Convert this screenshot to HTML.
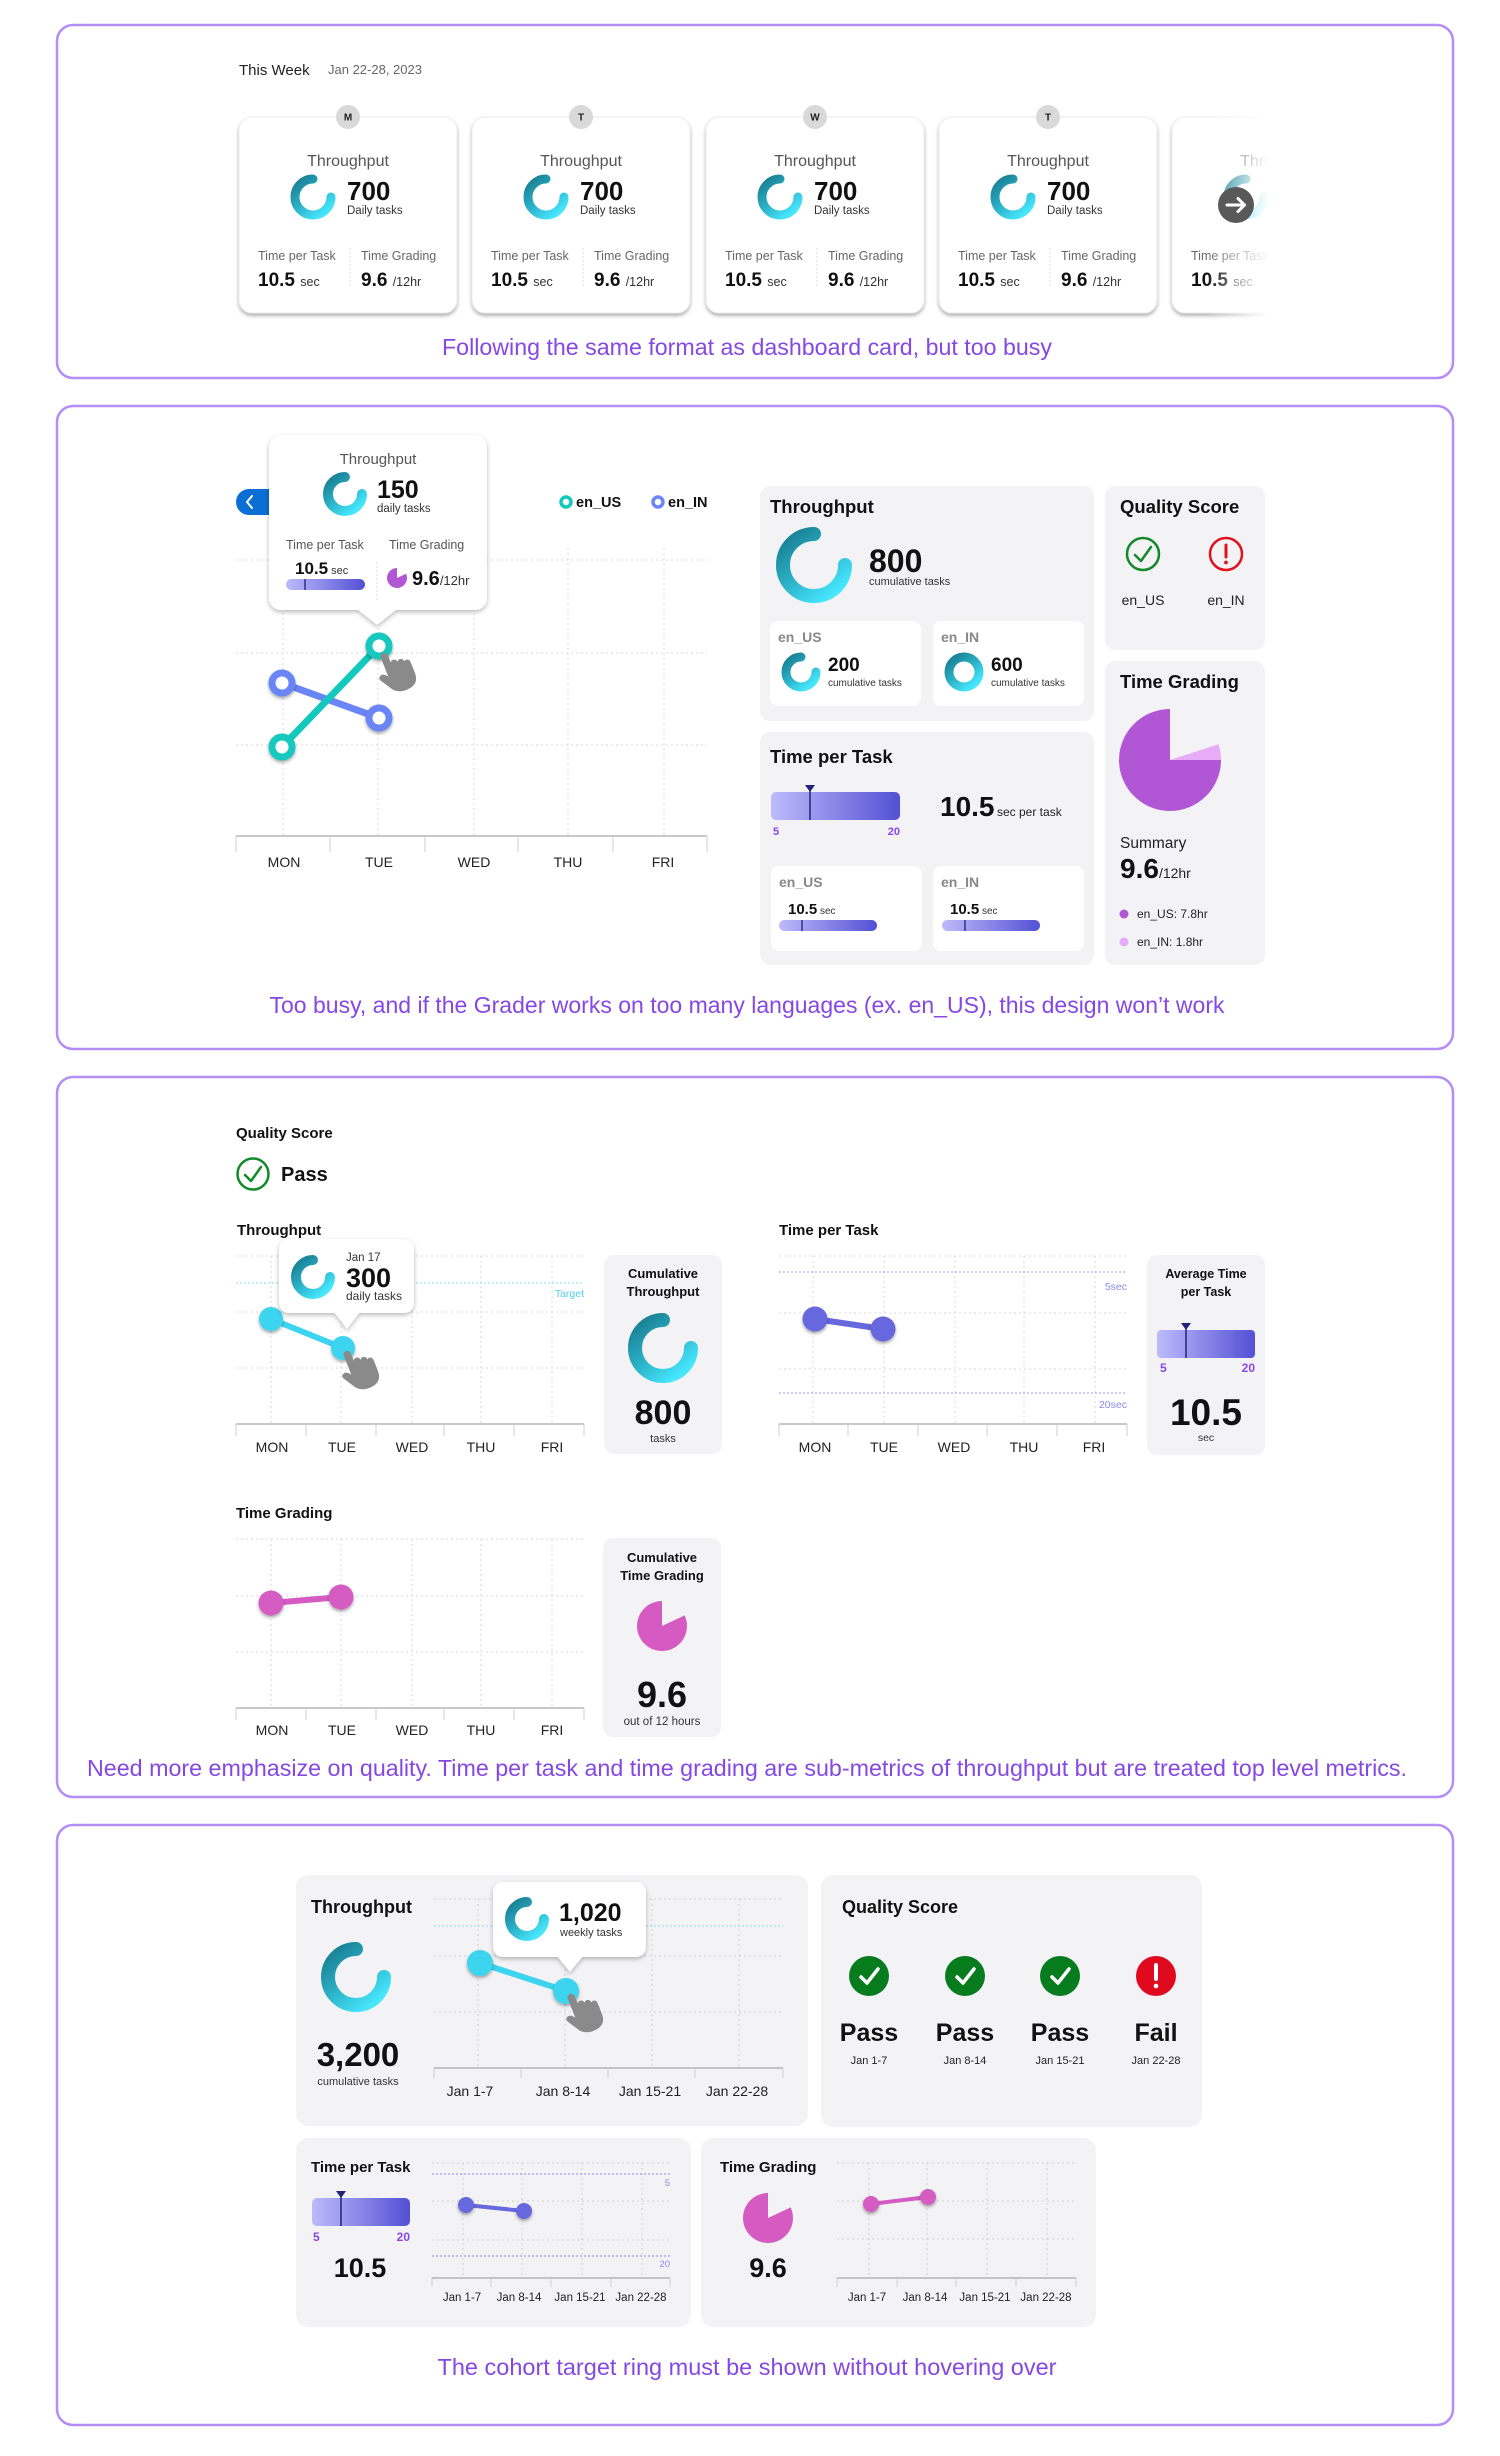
<!DOCTYPE html>
<html><head><meta charset="utf-8">
<style>
html,body{margin:0;padding:0;background:#fff;}
svg{display:block;font-family:"Liberation Sans",Arial,sans-serif;}
</style></head><body>
<svg width="1500" height="2456" viewBox="0 0 1500 2456" xmlns="http://www.w3.org/2000/svg">
<defs>
 <linearGradient id="rg" x1="0.2" y1="0" x2="0.9" y2="0.9"><stop offset="0" stop-color="#1b8599"/><stop offset="0.5" stop-color="#2cb3c9"/><stop offset="1" stop-color="#46e6fd"/></linearGradient>
 <linearGradient id="bar" x1="0" y1="0" x2="1" y2="0"><stop offset="0" stop-color="#bdbbfa"/><stop offset="1" stop-color="#5350d4"/></linearGradient>
 <linearGradient id="fade" x1="0" y1="0" x2="1" y2="0"><stop offset="0" stop-color="#fff" stop-opacity="0"/><stop offset="1" stop-color="#fff" stop-opacity="1"/></linearGradient>
 <filter id="sh" x="-10%" y="-10%" width="120%" height="125%"><feDropShadow dx="0" dy="2.5" stdDeviation="1.8" flood-color="#000" flood-opacity="0.3"/></filter>
 <filter id="sh2" x="-15%" y="-15%" width="130%" height="140%"><feDropShadow dx="0" dy="2" stdDeviation="2.5" flood-color="#000" flood-opacity="0.28"/></filter>
 <filter id="ps" x="-60%" y="-60%" width="220%" height="220%"><feDropShadow dx="0" dy="2" stdDeviation="1.5" flood-color="#000" flood-opacity="0.35"/></filter>
 <g id="hand" fill="#8a8a8a" transform="rotate(-22)">
  <rect x="-3.5" y="-1" width="7.5" height="26" rx="3.7"/>
  <rect x="3.5" y="9" width="7" height="16" rx="3.5"/>
  <rect x="10" y="11" width="7" height="15" rx="3.5"/>
  <rect x="16" y="14" width="6.5" height="13" rx="3.2"/>
  <path d="M-3.5,18 L22.5,20 L22.5,30 Q22,42 9,42 Q-2,42 -6,34 L-12,24 Q-14,20 -10,19 Q-7,18 -3.5,23 Z"/>
 </g>
</defs>

<!-- ================= PANEL 1 ================= -->
<rect x="57" y="25" width="1396" height="353" rx="16" fill="none" stroke="#b48ef6" stroke-width="2.5"/>
<text x="239" y="75" font-size="15" fill="#222">This Week</text>
<text x="328" y="74" font-size="13" fill="#666">Jan 22-28, 2023</text>

<g font-size="12.5">
 <rect x="239" y="117" width="218" height="196" rx="13" fill="#fff" stroke="#ececec" filter="url(#sh)"/>
 <circle cx="348" cy="117" r="12" fill="#d9d9d9"/>
 <text x="348" y="120.5" font-size="10" font-weight="bold" text-anchor="middle" fill="#222">M</text>
 <text x="348" y="166" font-size="16" text-anchor="middle" fill="#555">Throughput</text>
 <path d="M313,179 A18,18 0 1 0 331,197" fill="none" stroke="url(#rg)" stroke-width="9" stroke-linecap="round"/>
 <text x="347" y="200" font-size="26" font-weight="bold" fill="#111">700</text>
 <text x="347" y="214" font-size="11.5" fill="#333">Daily tasks</text>
 <text x="258" y="260" fill="#666">Time per Task</text>
 <text x="361" y="260" fill="#666">Time Grading</text>
 <line x1="350" y1="248" x2="350" y2="288" stroke="#ddd" stroke-dasharray="2,2"/>
 <text x="258" y="286" font-size="19" font-weight="bold" fill="#111">10.5 <tspan font-size="12.5" font-weight="normal" fill="#333">sec</tspan></text>
 <text x="361" y="286" font-size="19" font-weight="bold" fill="#111">9.6 <tspan font-size="12.5" font-weight="normal" fill="#333">/12hr</tspan></text>

 <rect x="472" y="117" width="218" height="196" rx="13" fill="#fff" stroke="#ececec" filter="url(#sh)"/>
 <circle cx="581" cy="117" r="12" fill="#d9d9d9"/>
 <text x="581" y="120.5" font-size="10" font-weight="bold" text-anchor="middle" fill="#222">T</text>
 <text x="581" y="166" font-size="16" text-anchor="middle" fill="#555">Throughput</text>
 <path d="M546,179 A18,18 0 1 0 564,197" fill="none" stroke="url(#rg)" stroke-width="9" stroke-linecap="round"/>
 <text x="580" y="200" font-size="26" font-weight="bold" fill="#111">700</text>
 <text x="580" y="214" font-size="11.5" fill="#333">Daily tasks</text>
 <text x="491" y="260" fill="#666">Time per Task</text>
 <text x="594" y="260" fill="#666">Time Grading</text>
 <line x1="583" y1="248" x2="583" y2="288" stroke="#ddd" stroke-dasharray="2,2"/>
 <text x="491" y="286" font-size="19" font-weight="bold" fill="#111">10.5 <tspan font-size="12.5" font-weight="normal" fill="#333">sec</tspan></text>
 <text x="594" y="286" font-size="19" font-weight="bold" fill="#111">9.6 <tspan font-size="12.5" font-weight="normal" fill="#333">/12hr</tspan></text>

 <rect x="706" y="117" width="218" height="196" rx="13" fill="#fff" stroke="#ececec" filter="url(#sh)"/>
 <circle cx="815" cy="117" r="12" fill="#d9d9d9"/>
 <text x="815" y="120.5" font-size="10" font-weight="bold" text-anchor="middle" fill="#222">W</text>
 <text x="815" y="166" font-size="16" text-anchor="middle" fill="#555">Throughput</text>
 <path d="M780,179 A18,18 0 1 0 798,197" fill="none" stroke="url(#rg)" stroke-width="9" stroke-linecap="round"/>
 <text x="814" y="200" font-size="26" font-weight="bold" fill="#111">700</text>
 <text x="814" y="214" font-size="11.5" fill="#333">Daily tasks</text>
 <text x="725" y="260" fill="#666">Time per Task</text>
 <text x="828" y="260" fill="#666">Time Grading</text>
 <line x1="817" y1="248" x2="817" y2="288" stroke="#ddd" stroke-dasharray="2,2"/>
 <text x="725" y="286" font-size="19" font-weight="bold" fill="#111">10.5 <tspan font-size="12.5" font-weight="normal" fill="#333">sec</tspan></text>
 <text x="828" y="286" font-size="19" font-weight="bold" fill="#111">9.6 <tspan font-size="12.5" font-weight="normal" fill="#333">/12hr</tspan></text>

 <rect x="939" y="117" width="218" height="196" rx="13" fill="#fff" stroke="#ececec" filter="url(#sh)"/>
 <circle cx="1048" cy="117" r="12" fill="#d9d9d9"/>
 <text x="1048" y="120.5" font-size="10" font-weight="bold" text-anchor="middle" fill="#222">T</text>
 <text x="1048" y="166" font-size="16" text-anchor="middle" fill="#555">Throughput</text>
 <path d="M1013,179 A18,18 0 1 0 1031,197" fill="none" stroke="url(#rg)" stroke-width="9" stroke-linecap="round"/>
 <text x="1047" y="200" font-size="26" font-weight="bold" fill="#111">700</text>
 <text x="1047" y="214" font-size="11.5" fill="#333">Daily tasks</text>
 <text x="958" y="260" fill="#666">Time per Task</text>
 <text x="1061" y="260" fill="#666">Time Grading</text>
 <line x1="1050" y1="248" x2="1050" y2="288" stroke="#ddd" stroke-dasharray="2,2"/>
 <text x="958" y="286" font-size="19" font-weight="bold" fill="#111">10.5 <tspan font-size="12.5" font-weight="normal" fill="#333">sec</tspan></text>
 <text x="1061" y="286" font-size="19" font-weight="bold" fill="#111">9.6 <tspan font-size="12.5" font-weight="normal" fill="#333">/12hr</tspan></text>

 <rect x="1172" y="117" width="218" height="196" rx="13" fill="#fff" stroke="#ececec" filter="url(#sh)"/>
 <circle cx="1281" cy="117" r="12" fill="#d9d9d9"/>
 <text x="1281" y="166" font-size="16" text-anchor="middle" fill="#555">Throughput</text>
 <path d="M1246,179 A18,18 0 1 0 1264,197" fill="none" stroke="url(#rg)" stroke-width="9" stroke-linecap="round"/>
 <text x="1191" y="260" fill="#666">Time per Task</text>
 <text x="1191" y="286" font-size="19" font-weight="bold" fill="#111">10.5 <tspan font-size="12.5" font-weight="normal" fill="#333">sec</tspan></text>
</g>
<rect x="1205" y="95" width="64" height="240" fill="url(#fade)"/>
<rect x="1268" y="95" width="175" height="240" fill="#fff"/>
<circle cx="1236" cy="205" r="18" fill="#595959"/>
<g stroke="#fff" stroke-width="3" stroke-linecap="round" stroke-linejoin="round" fill="none">
 <line x1="1227" y1="205" x2="1244" y2="205"/><polyline points="1238,198.5 1244.5,205 1238,211.5"/>
</g>

<text x="747" y="355" font-size="23" fill="#8548e4" text-anchor="middle" textLength="610" lengthAdjust="spacingAndGlyphs">Following the same format as dashboard card, but too busy</text>

<!-- ================= PANEL 2 ================= -->
<rect x="57" y="406" width="1396" height="643" rx="16" fill="none" stroke="#b48ef6" stroke-width="2.5"/>

<rect x="236" y="489" width="50" height="26" rx="13" fill="#0b6ed4"/>
<polyline points="252,496 247,502 252,508" fill="none" stroke="#fff" stroke-width="2" stroke-linecap="round"/>

<circle cx="566" cy="502" r="5" fill="#fff" stroke="#13c8bd" stroke-width="3.5"/>
<text x="576" y="507" font-size="14.5" font-weight="bold" fill="#111">en_US</text>
<circle cx="658" cy="502" r="5" fill="#fff" stroke="#6a86f6" stroke-width="3.5"/>
<text x="668" y="507" font-size="14.5" font-weight="bold" fill="#111">en_IN</text>

<g stroke="#d8d8d8" stroke-width="1" stroke-dasharray="2 3">
 <line x1="236" y1="560" x2="707" y2="560"/><line x1="236" y1="653" x2="707" y2="653"/><line x1="236" y1="745" x2="707" y2="745"/>
 <line x1="283" y1="548" x2="283" y2="836"/><line x1="378" y1="548" x2="378" y2="836"/><line x1="474" y1="548" x2="474" y2="836"/><line x1="568" y1="548" x2="568" y2="836"/><line x1="664" y1="548" x2="664" y2="836"/>
</g>
<line x1="236" y1="836" x2="707" y2="836" stroke="#b5b5b5" stroke-width="1.5"/>
<g stroke="#cfcfcf" stroke-width="1">
 <line x1="236" y1="836" x2="236" y2="852"/><line x1="330" y1="836" x2="330" y2="852"/><line x1="425" y1="836" x2="425" y2="852"/><line x1="518" y1="836" x2="518" y2="852"/><line x1="613" y1="836" x2="613" y2="852"/><line x1="707" y1="836" x2="707" y2="852"/>
</g>
<g font-size="14" fill="#222" text-anchor="middle">
 <text x="284" y="867">MON</text><text x="379" y="867">TUE</text><text x="474" y="867">WED</text><text x="568" y="867">THU</text><text x="663" y="867">FRI</text>
</g>
<line x1="282" y1="683" x2="379" y2="718" stroke="#6a86f6" stroke-width="7"/>
<line x1="282" y1="747" x2="379" y2="646" stroke="#13c8bd" stroke-width="7"/>
<circle cx="282" cy="683" r="10" fill="#fff" stroke="#6a86f6" stroke-width="7" filter="url(#ps)"/>
<circle cx="379" cy="718" r="10" fill="#fff" stroke="#6a86f6" stroke-width="7" filter="url(#ps)"/>
<circle cx="282" cy="747" r="10" fill="#fff" stroke="#13c8bd" stroke-width="7" filter="url(#ps)"/>
<circle cx="379" cy="646" r="10" fill="#fff" stroke="#13c8bd" stroke-width="7" filter="url(#ps)"/>

<g filter="url(#sh2)" fill="#fff">
 <rect x="269" y="435" width="218" height="175" rx="12"/>
 <polygon points="357,609 377,625 397,609"/>
</g>
<text x="378" y="464" font-size="15" text-anchor="middle" fill="#555">Throughput</text>
<path d="M345,477 A17,17 0 1 0 362,494" fill="none" stroke="url(#rg)" stroke-width="10" stroke-linecap="round"/>
<text x="377" y="498" font-size="25" font-weight="bold" fill="#111">150</text>
<text x="377" y="512" font-size="11.5" fill="#333">daily tasks</text>
<text x="286" y="549" font-size="12.5" fill="#555">Time per Task</text>
<text x="389" y="549" font-size="12.5" fill="#555">Time Grading</text>
<text x="295" y="574" font-size="17" font-weight="bold" fill="#111">10.5<tspan font-size="11" font-weight="normal" fill="#333"> sec</tspan></text>
<rect x="286" y="579" width="79" height="11" rx="5.5" fill="url(#bar)"/>
<line x1="305" y1="579" x2="305" y2="590" stroke="#2f2e90" stroke-width="1.5"/>
<line x1="377" y1="562" x2="377" y2="600" stroke="#ddd" stroke-dasharray="2,2"/>
<path d="M397,578 L406.06,573.77 A10,10 0 1 1 397,568 Z" fill="#b157d5"/>
<text x="412" y="585" font-size="20" font-weight="bold" fill="#111">9.6<tspan font-size="13" font-weight="normal" fill="#333">/12hr</tspan></text>
<use href="#hand" x="383" y="654"/>

<rect x="760" y="486" width="334" height="235" rx="10" fill="#f3f3f6"/>
<text x="770" y="513" font-size="18.5" font-weight="bold" fill="#111">Throughput</text>
<path d="M814,534 A31,31 0 1 0 845,565" fill="none" stroke="url(#rg)" stroke-width="14" stroke-linecap="round"/>
<text x="869" y="572" font-size="32" font-weight="bold" fill="#111">800</text>
<text x="869" y="585" font-size="11" fill="#333">cumulative tasks</text>
<rect x="770" y="621" width="151" height="85" rx="8" fill="#fff"/>
<rect x="933" y="621" width="151" height="85" rx="8" fill="#fff"/>
<text x="778" y="642" font-size="14" font-weight="bold" fill="#888">en_US</text>
<path d="M801,657 A15,15 0 1 0 816,672" fill="none" stroke="url(#rg)" stroke-width="9" stroke-linecap="round"/>
<text x="828" y="671" font-size="19" font-weight="bold" fill="#111">200</text>
<text x="828" y="686" font-size="10" fill="#333">cumulative tasks</text>
<text x="941" y="642" font-size="14" font-weight="bold" fill="#888">en_IN</text>
<circle cx="964" cy="672" r="15" fill="none" stroke="url(#rg)" stroke-width="9"/>
<text x="991" y="671" font-size="19" font-weight="bold" fill="#111">600</text>
<text x="991" y="686" font-size="10" fill="#333">cumulative tasks</text>

<rect x="760" y="732" width="334" height="233" rx="10" fill="#f3f3f6"/>
<text x="770" y="763" font-size="18.5" font-weight="bold" fill="#111">Time per Task</text>
<rect x="771" y="792" width="129" height="28" rx="5" fill="url(#bar)"/>
<line x1="810" y1="788" x2="810" y2="820" stroke="#22227a" stroke-width="1.5"/>
<polygon points="805,785 815,785 810,792" fill="#22227a"/>
<text x="773" y="835" font-size="11" font-weight="bold" fill="#8746e6">5</text>
<text x="900" y="835" font-size="11" font-weight="bold" fill="#8746e6" text-anchor="end">20</text>
<text x="940" y="816" font-size="28" font-weight="bold" fill="#111">10.5</text>
<text x="997" y="816" font-size="12" fill="#222">sec per task</text>
<rect x="771" y="866" width="151" height="85" rx="8" fill="#fff"/>
<rect x="933" y="866" width="151" height="85" rx="8" fill="#fff"/>
<text x="779" y="887" font-size="14" font-weight="bold" fill="#888">en_US</text>
<text x="788" y="914" font-size="15" font-weight="bold" fill="#111">10.5<tspan font-size="10" font-weight="normal" fill="#333"> sec</tspan></text>
<rect x="779" y="920" width="98" height="11" rx="5.5" fill="url(#bar)"/>
<line x1="802" y1="920" x2="802" y2="931" stroke="#2f2e90" stroke-width="1.5"/>
<text x="941" y="887" font-size="14" font-weight="bold" fill="#888">en_IN</text>
<text x="950" y="914" font-size="15" font-weight="bold" fill="#111">10.5<tspan font-size="10" font-weight="normal" fill="#333"> sec</tspan></text>
<rect x="942" y="920" width="98" height="11" rx="5.5" fill="url(#bar)"/>
<line x1="965" y1="920" x2="965" y2="931" stroke="#2f2e90" stroke-width="1.5"/>

<rect x="1105" y="486" width="160" height="164" rx="10" fill="#f3f3f6"/>
<text x="1120" y="513" font-size="18.5" font-weight="bold" fill="#111">Quality Score</text>
<circle cx="1143" cy="554" r="16" fill="none" stroke="#14892b" stroke-width="2.5"/>
<polyline points="1135,555 1141,561 1151,547" fill="none" stroke="#14892b" stroke-width="2.5" stroke-linecap="round" stroke-linejoin="round"/>
<circle cx="1226" cy="554" r="16" fill="none" stroke="#e2121d" stroke-width="2.5"/>
<line x1="1226" y1="545" x2="1226" y2="557" stroke="#e2121d" stroke-width="3" stroke-linecap="round"/>
<circle cx="1226" cy="562.5" r="1.9" fill="#e2121d"/>
<text x="1143" y="605" font-size="14" text-anchor="middle" fill="#222">en_US</text>
<text x="1226" y="605" font-size="14" text-anchor="middle" fill="#222">en_IN</text>

<rect x="1105" y="661" width="160" height="304" rx="10" fill="#f3f3f6"/>
<text x="1120" y="688" font-size="18.5" font-weight="bold" fill="#111">Time Grading</text>
<path d="M1170,760 L1221,760 A51,51 0 1 1 1170,709 Z" fill="#b157d5"/>
<path d="M1170,760 L1218.5,744.24 A51,51 0 0 1 1221,760 Z" fill="#e8abf7"/>
<text x="1120" y="848" font-size="15.5" fill="#222">Summary</text>
<text x="1120" y="878" font-size="28" font-weight="bold" fill="#111">9.6<tspan font-size="14" font-weight="normal" fill="#222">/12hr</tspan></text>
<circle cx="1124" cy="914" r="4.5" fill="#b157d5"/>
<text x="1137" y="918" font-size="12" fill="#222">en_US: 7.8hr</text>
<circle cx="1124" cy="942" r="4.5" fill="#e8abf7"/>
<text x="1137" y="946" font-size="12" fill="#222">en_IN: 1.8hr</text>

<text x="747" y="1013" font-size="23" fill="#8548e4" text-anchor="middle" textLength="955" lengthAdjust="spacingAndGlyphs">Too busy, and if the Grader works on too many languages (ex. en_US), this design won’t work</text>

<!-- ================= PANEL 3 ================= -->
<rect x="57" y="1077" width="1396" height="720" rx="16" fill="none" stroke="#b48ef6" stroke-width="2.5"/>
<text x="236" y="1138" font-size="15" font-weight="bold" fill="#111">Quality Score</text>
<circle cx="253" cy="1174" r="15.5" fill="none" stroke="#118a2a" stroke-width="2.5"/>
<polyline points="245,1175 251,1181 261,1167" fill="none" stroke="#118a2a" stroke-width="2.5" stroke-linecap="round" stroke-linejoin="round"/>
<text x="281" y="1181" font-size="20" font-weight="bold" fill="#111">Pass</text>

<text x="237" y="1235" font-size="15" font-weight="bold" fill="#111">Throughput</text>
<g stroke="#d8d8d8" stroke-width="1" stroke-dasharray="2 3">
 <line x1="236" y1="1256" x2="584" y2="1256"/><line x1="236" y1="1312" x2="584" y2="1312"/><line x1="236" y1="1368" x2="584" y2="1368"/>
 <line x1="271" y1="1256" x2="271" y2="1424"/><line x1="341" y1="1256" x2="341" y2="1424"/><line x1="412" y1="1256" x2="412" y2="1424"/><line x1="481" y1="1256" x2="481" y2="1424"/><line x1="552" y1="1256" x2="552" y2="1424"/>
</g>
<line x1="236" y1="1283" x2="584" y2="1283" stroke="#86def3" stroke-width="1" stroke-dasharray="2 2"/>
<text x="584" y="1297" font-size="10.5" fill="#4fcfeb" text-anchor="end">Target</text>
<line x1="236" y1="1424" x2="584" y2="1424" stroke="#b5b5b5" stroke-width="1.5"/>
<g stroke="#cfcfcf"><line x1="236" y1="1424" x2="236" y2="1436"/><line x1="306" y1="1424" x2="306" y2="1436"/><line x1="376" y1="1424" x2="376" y2="1436"/><line x1="444" y1="1424" x2="444" y2="1436"/><line x1="514" y1="1424" x2="514" y2="1436"/><line x1="584" y1="1424" x2="584" y2="1436"/></g>
<g font-size="14" fill="#222" text-anchor="middle"><text x="272" y="1452">MON</text><text x="342" y="1452">TUE</text><text x="412" y="1452">WED</text><text x="481" y="1452">THU</text><text x="552" y="1452">FRI</text></g>
<line x1="271" y1="1319" x2="343" y2="1348" stroke="#3dd4f0" stroke-width="6"/>
<circle cx="271" cy="1319" r="12" fill="#3dd4f0" filter="url(#ps)"/>
<circle cx="343" cy="1348" r="12" fill="#3dd4f0" filter="url(#ps)"/>
<g filter="url(#sh2)" fill="#fff">
 <rect x="279" y="1239" width="135" height="74" rx="10"/>
 <polygon points="334,1312 347,1329 360,1312"/>
</g>
<path d="M313,1260 A17,17 0 1 0 330,1277" fill="none" stroke="url(#rg)" stroke-width="10" stroke-linecap="round"/>
<text x="346" y="1261" font-size="11.5" fill="#333">Jan 17</text>
<text x="346" y="1287" font-size="27" font-weight="bold" fill="#111">300</text>
<text x="346" y="1300" font-size="12" fill="#333">daily tasks</text>
<use href="#hand" x="346" y="1352"/>

<rect x="604" y="1255" width="118" height="199" rx="10" fill="#f3f3f6"/>
<text x="663" y="1278" font-size="13" font-weight="bold" fill="#111" text-anchor="middle">Cumulative</text>
<text x="663" y="1296" font-size="13" font-weight="bold" fill="#111" text-anchor="middle">Throughput</text>
<path d="M663,1320 A28,28 0 1 0 691,1348" fill="none" stroke="url(#rg)" stroke-width="14" stroke-linecap="round"/>
<text x="663" y="1424" font-size="34" font-weight="bold" fill="#111" text-anchor="middle">800</text>
<text x="663" y="1442" font-size="11" fill="#333" text-anchor="middle">tasks</text>

<text x="779" y="1235" font-size="15" font-weight="bold" fill="#111">Time per Task</text>
<g stroke="#d8d8d8" stroke-width="1" stroke-dasharray="2 3">
 <line x1="779" y1="1256" x2="1127" y2="1256"/><line x1="779" y1="1313" x2="1127" y2="1313"/><line x1="779" y1="1369" x2="1127" y2="1369"/>
 <line x1="813" y1="1256" x2="813" y2="1424"/><line x1="884" y1="1256" x2="884" y2="1424"/><line x1="955" y1="1256" x2="955" y2="1424"/><line x1="1024" y1="1256" x2="1024" y2="1424"/><line x1="1095" y1="1256" x2="1095" y2="1424"/>
</g>
<g stroke="#9a9af2" stroke-width="1" stroke-dasharray="2 2"><line x1="779" y1="1272" x2="1127" y2="1272"/><line x1="779" y1="1393" x2="1127" y2="1393"/></g>
<text x="1127" y="1290" font-size="10.5" fill="#8a8ae8" text-anchor="end">5sec</text>
<text x="1127" y="1408" font-size="10.5" fill="#8a8ae8" text-anchor="end">20sec</text>
<line x1="779" y1="1424" x2="1127" y2="1424" stroke="#b5b5b5" stroke-width="1.5"/>
<g stroke="#cfcfcf"><line x1="779" y1="1424" x2="779" y2="1436"/><line x1="848" y1="1424" x2="848" y2="1436"/><line x1="918" y1="1424" x2="918" y2="1436"/><line x1="987" y1="1424" x2="987" y2="1436"/><line x1="1057" y1="1424" x2="1057" y2="1436"/><line x1="1127" y1="1424" x2="1127" y2="1436"/></g>
<g font-size="14" fill="#222" text-anchor="middle"><text x="815" y="1452">MON</text><text x="884" y="1452">TUE</text><text x="954" y="1452">WED</text><text x="1024" y="1452">THU</text><text x="1094" y="1452">FRI</text></g>
<line x1="815" y1="1319" x2="883" y2="1329" stroke="#6767de" stroke-width="6"/>
<circle cx="815" cy="1319" r="12.5" fill="#6767de" filter="url(#ps)"/>
<circle cx="883" cy="1329" r="12.5" fill="#6767de" filter="url(#ps)"/>

<rect x="1147" y="1255" width="118" height="200" rx="10" fill="#f3f3f6"/>
<text x="1206" y="1278" font-size="12.5" font-weight="bold" fill="#111" text-anchor="middle">Average Time</text>
<text x="1206" y="1296" font-size="12.5" font-weight="bold" fill="#111" text-anchor="middle">per Task</text>
<rect x="1157" y="1330" width="98" height="28" rx="4" fill="url(#bar)"/>
<line x1="1186" y1="1326" x2="1186" y2="1358" stroke="#22227a" stroke-width="1.5"/>
<polygon points="1181,1323 1191,1323 1186,1330" fill="#22227a"/>
<text x="1160" y="1372" font-size="12" font-weight="bold" fill="#8746e6">5</text>
<text x="1255" y="1372" font-size="12" font-weight="bold" fill="#8746e6" text-anchor="end">20</text>
<text x="1206" y="1425" font-size="37" font-weight="bold" fill="#111" text-anchor="middle">10.5</text>
<text x="1206" y="1441" font-size="10.5" fill="#333" text-anchor="middle">sec</text>

<text x="236" y="1518" font-size="15" font-weight="bold" fill="#111">Time Grading</text>
<g stroke="#d8d8d8" stroke-width="1" stroke-dasharray="2 3">
 <line x1="236" y1="1539" x2="584" y2="1539"/><line x1="236" y1="1596" x2="584" y2="1596"/><line x1="236" y1="1652" x2="584" y2="1652"/>
 <line x1="271" y1="1539" x2="271" y2="1708"/><line x1="341" y1="1539" x2="341" y2="1708"/><line x1="412" y1="1539" x2="412" y2="1708"/><line x1="481" y1="1539" x2="481" y2="1708"/><line x1="552" y1="1539" x2="552" y2="1708"/>
</g>
<line x1="236" y1="1708" x2="584" y2="1708" stroke="#b5b5b5" stroke-width="1.5"/>
<g stroke="#cfcfcf"><line x1="236" y1="1708" x2="236" y2="1720"/><line x1="306" y1="1708" x2="306" y2="1720"/><line x1="376" y1="1708" x2="376" y2="1720"/><line x1="444" y1="1708" x2="444" y2="1720"/><line x1="514" y1="1708" x2="514" y2="1720"/><line x1="584" y1="1708" x2="584" y2="1720"/></g>
<g font-size="14" fill="#222" text-anchor="middle"><text x="272" y="1735">MON</text><text x="342" y="1735">TUE</text><text x="412" y="1735">WED</text><text x="481" y="1735">THU</text><text x="552" y="1735">FRI</text></g>
<line x1="271" y1="1603" x2="341" y2="1597" stroke="#d55bc3" stroke-width="6"/>
<circle cx="271" cy="1603" r="12.5" fill="#d55bc3" filter="url(#ps)"/>
<circle cx="341" cy="1597" r="12.5" fill="#d55bc3" filter="url(#ps)"/>

<rect x="603" y="1538" width="118" height="199" rx="10" fill="#f3f3f6"/>
<text x="662" y="1562" font-size="13" font-weight="bold" fill="#111" text-anchor="middle">Cumulative</text>
<text x="662" y="1580" font-size="13" font-weight="bold" fill="#111" text-anchor="middle">Time Grading</text>
<path d="M662,1626 L684.66,1615.43 A25,25 0 1 1 662,1601 Z" fill="#d55bc3"/>
<text x="662" y="1707" font-size="36" font-weight="bold" fill="#111" text-anchor="middle">9.6</text>
<text x="662" y="1725" font-size="11.5" fill="#333" text-anchor="middle">out of 12 hours</text>

<text x="747" y="1776" font-size="23" fill="#8548e4" text-anchor="middle" textLength="1320" lengthAdjust="spacingAndGlyphs">Need more emphasize on quality. Time per task and time grading are sub-metrics of throughput but are treated top level metrics.</text>

<!-- ================= PANEL 4 ================= -->
<rect x="57" y="1825" width="1396" height="600" rx="16" fill="none" stroke="#b48ef6" stroke-width="2.5"/>

<rect x="296" y="1875" width="512" height="251" rx="12" fill="#f3f3f6"/>
<text x="311" y="1913" font-size="18" font-weight="bold" fill="#111">Throughput</text>
<path d="M356,1949 A28,28 0 1 0 384,1977" fill="none" stroke="url(#rg)" stroke-width="14" stroke-linecap="round"/>
<text x="358" y="2066" font-size="33" font-weight="bold" fill="#111" text-anchor="middle">3,200</text>
<text x="358" y="2085" font-size="11" fill="#333" text-anchor="middle">cumulative tasks</text>
<g stroke="#d0d0d0" stroke-width="1" stroke-dasharray="2 3">
 <line x1="434" y1="1899" x2="783" y2="1899"/><line x1="434" y1="1956" x2="783" y2="1956"/><line x1="434" y1="2012" x2="783" y2="2012"/>
 <line x1="478" y1="1899" x2="478" y2="2068"/><line x1="565" y1="1899" x2="565" y2="2068"/><line x1="652" y1="1899" x2="652" y2="2068"/><line x1="739" y1="1899" x2="739" y2="2068"/>
</g>
<line x1="434" y1="1926" x2="783" y2="1926" stroke="#86def3" stroke-width="1" stroke-dasharray="2 2"/>
<line x1="434" y1="2068" x2="783" y2="2068" stroke="#b5b5b5" stroke-width="1.5"/>
<g stroke="#cfcfcf"><line x1="434" y1="2068" x2="434" y2="2078"/><line x1="521" y1="2068" x2="521" y2="2078"/><line x1="608" y1="2068" x2="608" y2="2078"/><line x1="695" y1="2068" x2="695" y2="2078"/><line x1="783" y1="2068" x2="783" y2="2078"/></g>
<g font-size="14" fill="#222" text-anchor="middle"><text x="470" y="2096">Jan 1-7</text><text x="563" y="2096">Jan 8-14</text><text x="650" y="2096">Jan 15-21</text><text x="737" y="2096">Jan 22-28</text></g>
<line x1="480" y1="1963" x2="566" y2="1991" stroke="#3dd4f0" stroke-width="6"/>
<circle cx="480" cy="1963" r="13" fill="#3dd4f0" filter="url(#ps)"/>
<circle cx="566" cy="1991" r="13" fill="#3dd4f0" filter="url(#ps)"/>
<g filter="url(#sh2)" fill="#fff">
 <rect x="493" y="1882" width="153" height="75" rx="10"/>
 <polygon points="557,1956 570,1972 583,1956"/>
</g>
<path d="M527,1902 A17,17 0 1 0 544,1919" fill="none" stroke="url(#rg)" stroke-width="10" stroke-linecap="round"/>
<text x="559" y="1921" font-size="25" font-weight="bold" fill="#111">1,020</text>
<text x="560" y="1936" font-size="11" fill="#333">weekly tasks</text>
<use href="#hand" x="570" y="1995"/>

<rect x="821" y="1875" width="381" height="252" rx="12" fill="#f3f3f6"/>
<text x="842" y="1913" font-size="18" font-weight="bold" fill="#111">Quality Score</text>
<g stroke="#fff" stroke-width="3.5" stroke-linecap="round" stroke-linejoin="round" fill="none">
 <circle cx="869" cy="1976" r="20" fill="#077c1f" stroke="none"/><polyline points="861,1977 867,1983 878,1969"/>
 <circle cx="965" cy="1976" r="20" fill="#077c1f" stroke="none"/><polyline points="957,1977 963,1983 974,1969"/>
 <circle cx="1060" cy="1976" r="20" fill="#077c1f" stroke="none"/><polyline points="1052,1977 1058,1983 1069,1969"/>
 <circle cx="1156" cy="1976" r="20" fill="#e00a1f" stroke="none"/><line x1="1156" y1="1965" x2="1156" y2="1979" stroke-width="4"/>
</g>
<circle cx="1156" cy="1986" r="2.3" fill="#fff"/>
<g font-size="25" font-weight="bold" fill="#111" text-anchor="middle"><text x="869" y="2041">Pass</text><text x="965" y="2041">Pass</text><text x="1060" y="2041">Pass</text><text x="1156" y="2041">Fail</text></g>
<g font-size="11" fill="#222" text-anchor="middle"><text x="869" y="2064">Jan 1-7</text><text x="965" y="2064">Jan 8-14</text><text x="1060" y="2064">Jan 15-21</text><text x="1156" y="2064">Jan 22-28</text></g>

<rect x="296" y="2138" width="395" height="189" rx="12" fill="#f3f3f6"/>
<text x="311" y="2172" font-size="15" font-weight="bold" fill="#111">Time per Task</text>
<rect x="312" y="2198" width="98" height="28" rx="5" fill="url(#bar)"/>
<line x1="341" y1="2194" x2="341" y2="2226" stroke="#22227a" stroke-width="1.5"/>
<polygon points="336,2191 346,2191 341,2198" fill="#22227a"/>
<text x="313" y="2241" font-size="12" font-weight="bold" fill="#8746e6">5</text>
<text x="410" y="2241" font-size="12" font-weight="bold" fill="#8746e6" text-anchor="end">20</text>
<text x="360" y="2277" font-size="27" font-weight="bold" fill="#111" text-anchor="middle">10.5</text>
<g stroke="#d0d0d0" stroke-width="1" stroke-dasharray="2 3">
 <line x1="432" y1="2163" x2="670" y2="2163"/><line x1="432" y1="2201" x2="670" y2="2201"/><line x1="432" y1="2240" x2="670" y2="2240"/>
 <line x1="463" y1="2163" x2="463" y2="2278"/><line x1="522" y1="2163" x2="522" y2="2278"/><line x1="582" y1="2163" x2="582" y2="2278"/><line x1="642" y1="2163" x2="642" y2="2278"/>
</g>
<g stroke="#8a8af0" stroke-width="1" stroke-dasharray="2 2"><line x1="432" y1="2174" x2="670" y2="2174"/><line x1="432" y1="2256" x2="670" y2="2256"/></g>
<text x="670" y="2186" font-size="9.5" fill="#8a8ae8" text-anchor="end">5</text>
<text x="670" y="2267" font-size="9.5" fill="#8a8ae8" text-anchor="end">20</text>
<line x1="432" y1="2278" x2="670" y2="2278" stroke="#b5b5b5" stroke-width="1.5"/>
<g stroke="#cfcfcf"><line x1="432" y1="2278" x2="432" y2="2287"/><line x1="491" y1="2278" x2="491" y2="2287"/><line x1="551" y1="2278" x2="551" y2="2287"/><line x1="611" y1="2278" x2="611" y2="2287"/><line x1="670" y1="2278" x2="670" y2="2287"/></g>
<g font-size="11.5" fill="#222" text-anchor="middle"><text x="462" y="2301">Jan 1-7</text><text x="519" y="2301">Jan 8-14</text><text x="580" y="2301">Jan 15-21</text><text x="641" y="2301">Jan 22-28</text></g>
<line x1="466" y1="2205" x2="524" y2="2211" stroke="#6767de" stroke-width="4"/>
<circle cx="466" cy="2205" r="8" fill="#6767de" filter="url(#ps)"/>
<circle cx="524" cy="2211" r="8" fill="#6767de" filter="url(#ps)"/>

<rect x="701" y="2138" width="395" height="189" rx="12" fill="#f3f3f6"/>
<text x="720" y="2172" font-size="15" font-weight="bold" fill="#111">Time Grading</text>
<path d="M768,2218 L790.66,2207.43 A25,25 0 1 1 768,2193 Z" fill="#d55bc3"/>
<text x="768" y="2277" font-size="27" font-weight="bold" fill="#111" text-anchor="middle">9.6</text>
<g stroke="#d0d0d0" stroke-width="1" stroke-dasharray="2 3">
 <line x1="837" y1="2163" x2="1076" y2="2163"/><line x1="837" y1="2201" x2="1076" y2="2201"/><line x1="837" y1="2239" x2="1076" y2="2239"/>
 <line x1="869" y1="2163" x2="869" y2="2278"/><line x1="927" y1="2163" x2="927" y2="2278"/><line x1="987" y1="2163" x2="987" y2="2278"/><line x1="1047" y1="2163" x2="1047" y2="2278"/>
</g>
<line x1="837" y1="2278" x2="1076" y2="2278" stroke="#b5b5b5" stroke-width="1.5"/>
<g stroke="#cfcfcf"><line x1="837" y1="2278" x2="837" y2="2287"/><line x1="897" y1="2278" x2="897" y2="2287"/><line x1="956" y1="2278" x2="956" y2="2287"/><line x1="1016" y1="2278" x2="1016" y2="2287"/><line x1="1076" y1="2278" x2="1076" y2="2287"/></g>
<g font-size="11.5" fill="#222" text-anchor="middle"><text x="867" y="2301">Jan 1-7</text><text x="925" y="2301">Jan 8-14</text><text x="985" y="2301">Jan 15-21</text><text x="1046" y="2301">Jan 22-28</text></g>
<line x1="871" y1="2204" x2="928" y2="2197" stroke="#d55bc3" stroke-width="4"/>
<circle cx="871" cy="2204" r="8" fill="#d55bc3" filter="url(#ps)"/>
<circle cx="928" cy="2197" r="8" fill="#d55bc3" filter="url(#ps)"/>

<text x="747" y="2375" font-size="23" fill="#8548e4" text-anchor="middle" textLength="619" lengthAdjust="spacingAndGlyphs">The cohort target ring must be shown without hovering over</text>
</svg>
</body></html>
